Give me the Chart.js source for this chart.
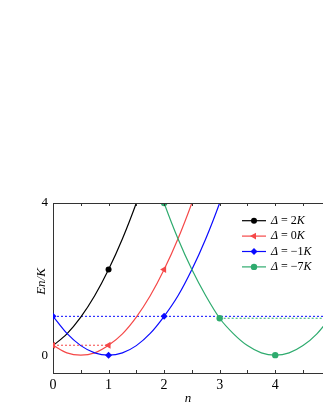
<!DOCTYPE html>
<html>
<head>
<script src="https://cdn.jsdelivr.net/npm/chart.js@4.4.0/dist/chart.umd.min.js"></script>
<style>body{margin:0;background:#fff}</style>
</head>
<body>
<canvas id="c" width="323" height="418"></canvas>
<script>
// tick values
var nTicks = [0, 1, 2, 3, 4];
var minorTicks = [0, 0.5, 1, 1.5, 2, 2.5, 3, 3.5, 4, 4.5];
var yTicks = [0, 4];
var deltaVals = ['2', '0', '\u22121', '\u22127'];

// curves (E/K against n)
var nBlack = [0, 0.25, 0.5, 0.75, 1, 1.25, 1.5, 1.75];
var eBlack = [0.25, 0.56, 1.0, 1.56, 2.25, 3.06, 4.0, 5.06];
var nRed = [0, 0.25, 0.5, 0.75, 1, 1.25, 1.5, 1.75, 2, 2.25, 2.5, 2.75];
var eRed = [0.26, 0.06, 0, 0.06, 0.26, 0.56, 1.0, 1.56, 2.25, 3.06, 4.0, 5.06];
var nBlue = [0, 0.25, 0.5, 0.75, 1, 1.25, 1.5, 1.75, 2, 2.25, 2.5, 2.75, 3, 3.25];
var eBlue = [1.02, 0.57, 0.25, 0.06, 0, 0.06, 0.25, 0.57, 1.02, 1.56, 2.25, 3.06, 4.0, 5.06];
var nGreen = [1.75, 2, 2.25, 2.5, 2.75, 3, 3.25, 3.5, 3.75, 4, 4.25, 4.5, 4.75, 5];
var eGreen = [5.06, 4.0, 3.06, 2.25, 1.56, 0.97, 0.56, 0.25, 0.06, 0, 0.06, 0.25, 0.56, 1.0];

// marked points
var nBlackPts = [1], eBlackPts = [2.25];
var nRedPts = [0, 1, 2], eRedPts = [0.26, 0.26, 2.25];
var nBluePts = [0, 1, 2], eBluePts = [1.02, 0, 1.02];
var nGreenPts = [2, 3, 4], eGreenPts = [4.0, 0.97, 0];

// dotted levels
var nRedDot = [0, 1], eRedDot = [0.26, 0.26];
var nBlueDot = [0, 5], eBlueDot = [1.02, 1.02];
var nGreenDot = [3, 5], eGreenDot = [0.97, 0.97];

var FONT = "'Liberation Serif', 'Times New Roman', serif";

function pts(xs, ys) {
  return xs.map(function (x, i) { return { x: x, y: ys[i] }; });
}

var series = [
  { c: '#000000', style: 'circle', rot: 0, r: 3, n: nBlack, e: eBlack, pn: nBlackPts, pe: eBlackPts },
  { c: '#f54848', style: 'triangle', rot: -90, r: 4, n: nRed, e: eRed, pn: nRedPts, pe: eRedPts },
  { c: '#0a0aff', style: 'rectRot', rot: 0, r: 3.5, n: nBlue, e: eBlue, pn: nBluePts, pe: eBluePts },
  { c: '#2eab6e', style: 'circle', rot: 0, r: 3.2, n: nGreen, e: eGreen, pn: nGreenPts, pe: eGreenPts }
];
var dots = [
  { c: '#f54848', n: nRedDot, e: eRedDot },
  { c: '#0a0aff', n: nBlueDot, e: eBlueDot },
  { c: '#2eab6e', n: nGreenDot, e: eGreenDot }
];

var datasets = [];
dots.forEach(function (d) {
  datasets.push({
    data: pts(d.n, d.e), borderColor: d.c, borderWidth: 1, borderDash: [2, 2],
    pointRadius: 0, fill: false, clip: 0, order: 5
  });
});
series.forEach(function (s, i) {
  datasets.push({
    data: pts(s.n, s.e), borderColor: s.c, borderWidth: 1.2,
    cubicInterpolationMode: 'monotone', pointRadius: 0, fill: false, clip: 0, order: 4 - i
  });
  datasets.push({
    data: pts(s.pn, s.pe), showLine: false, pointStyle: s.style, rotation: s.rot,
    pointRadius: s.r, pointBackgroundColor: s.c, pointBorderColor: s.c, pointBorderWidth: 0,
    clip: 0, order: 0 - i
  });
});

var extras = {
  id: 'extras',
  afterDraw: function (chart) {
    var ctx = chart.ctx, a = chart.chartArea, xs = chart.scales.x;
    ctx.save();
    // top frame line
    ctx.strokeStyle = '#333';
    ctx.lineWidth = 1;
    ctx.beginPath();
    ctx.moveTo(a.left, a.top + 0.5);
    ctx.lineTo(a.right, a.top + 0.5);
    ctx.stroke();
    // inward ticks, bottom and top
    minorTicks.forEach(function (v) {
      var px = Math.round(xs.getPixelForValue(v)) + 0.5;
      ctx.beginPath();
      ctx.moveTo(px, a.bottom);
      ctx.lineTo(px, a.bottom - 3);
      ctx.moveTo(px, a.top);
      ctx.lineTo(px, a.top + 3);
      ctx.stroke();
    });
    // axis titles
    ctx.fillStyle = '#000';
    ctx.font = 'italic 13px ' + FONT;
    ctx.textAlign = 'center';
    ctx.textBaseline = 'middle';
    ctx.fillText('n', (a.left + a.right) / 2, 399);
    ctx.save();
    ctx.translate(a.left - 11, (a.top + a.bottom) / 2 - 6.5);
    ctx.rotate(-Math.PI / 2);
    ctx.fillText('En/K', 0, 0);
    ctx.restore();
    // legend
    ctx.textAlign = 'left';
    series.forEach(function (s, i) {
      var y = 220.7 + 15.4 * i;
      ctx.strokeStyle = s.c;
      ctx.fillStyle = s.c;
      ctx.lineWidth = 1.2;
      ctx.beginPath();
      ctx.moveTo(242, y);
      ctx.lineTo(266, y);
      ctx.stroke();
      Chart.helpers.drawPoint(ctx, { pointStyle: s.style, rotation: s.rot, radius: s.r, borderWidth: 0 }, 254, y);
      ctx.fillStyle = '#000';
      var x = 271;
      ctx.font = 'italic 12px ' + FONT;
      ctx.fillText('\u0394', x, y);
      x += ctx.measureText('\u0394').width;
      ctx.font = '12px ' + FONT;
      var mid = ' = ' + deltaVals[i];
      ctx.fillText(mid, x, y);
      x += ctx.measureText(mid).width;
      ctx.font = 'italic 12px ' + FONT;
      ctx.fillText('K', x, y);
    });
    ctx.restore();
  }
};

new Chart('c', {
  type: 'line',
  data: { datasets: datasets },
  options: {
    responsive: false,
    animation: false,
    devicePixelRatio: 1,
    layout: { autoPadding: false, padding: { top: 203, right: 0, left: 0, bottom: 0 } },
    plugins: { legend: { display: false }, tooltip: { enabled: false } },
    scales: {
      x: {
        type: 'linear', min: 0, max: 4.86,
        afterBuildTicks: function (s) { s.ticks = nTicks.map(function (v) { return { value: v }; }); },
        afterFit: function (s) { s.height = 45; },
        ticks: { font: { family: FONT, size: 14 }, color: '#000', padding: 4, maxRotation: 0, autoSkip: false },
        grid: { display: true, drawOnChartArea: false, drawTicks: false },
        border: { color: '#333', width: 1 }
      },
      y: {
        type: 'linear', min: -0.47, max: 4,
        afterBuildTicks: function (s) { s.ticks = yTicks.map(function (v) { return { value: v }; }); },
        afterFit: function (s) { s.width = 53; },
        ticks: { font: { family: FONT, size: 13 }, color: '#000', padding: 5 },
        grid: { display: true, drawOnChartArea: false, drawTicks: false },
        border: { color: '#333', width: 1 }
      }
    }
  },
  plugins: [extras]
});
</script>
</body>
</html>
